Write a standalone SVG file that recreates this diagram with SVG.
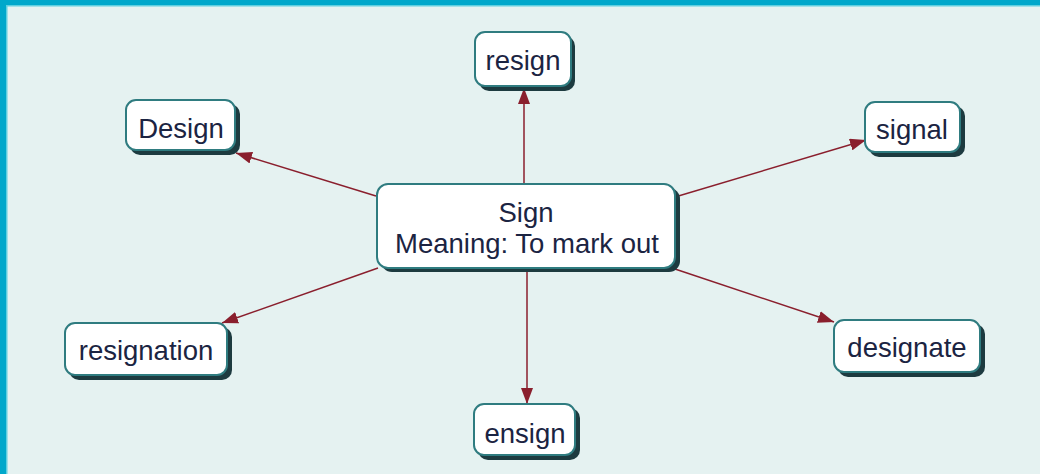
<svg xmlns="http://www.w3.org/2000/svg" width="1040" height="474" viewBox="0 0 1040 474">
<defs>
<marker id="ah" viewBox="0 0 16 12" refX="16" refY="6" markerWidth="16" markerHeight="12" markerUnits="userSpaceOnUse" orient="auto">
<path d="M0,0 L16,6 L0,12 Z" fill="#8a1f2d"/>
</marker>
</defs>
<style>
.bg{fill:#e5f2f1}
.sh{fill:#1d3b40}
.bx{fill:#ffffff;stroke:#2f7c80;stroke-width:2}
.t{font-family:"Liberation Sans",Arial,sans-serif;font-size:27.5px;fill:#1b2442;text-anchor:middle}
.c{stroke:#8a1f2d;stroke-width:1.5;fill:none;marker-end:url(#ah)}
</style>
<rect class="bg" x="0" y="0" width="1040" height="474"/>
<rect x="0" y="0" width="1040" height="5" fill="#00a8cb"/>
<rect x="0" y="5" width="1040" height="1.5" fill="#5fcfe0"/>
<rect x="0" y="0" width="6" height="474" fill="#00a8cb"/>
<rect x="6" y="5" width="1.5" height="469" fill="#5fcfe0"/>
<g id="connectors">
<line class="c" x1="524" y1="184" x2="524" y2="88"/>
<line class="c" x1="527" y1="268" x2="527" y2="404"/>
<line class="c" x1="376" y1="196" x2="236" y2="153"/>
<line class="c" x1="675" y1="197" x2="866" y2="140"/>
<line class="c" x1="378" y1="268" x2="222" y2="323"/>
<line class="c" x1="672" y1="268" x2="834" y2="322"/>
</g>
<g id="sign">
<rect class="sh" x="381" y="188" width="299" height="84" rx="11"/>
<rect class="bx" x="377" y="184" width="298" height="84" rx="11"/>
<text class="t" x="526" y="222">Sign</text>
<text class="t" x="527" y="253">Meaning: To mark out</text>
</g>
<g id="resign">
<rect class="sh" x="479" y="36" width="96" height="55" rx="10"/>
<rect class="bx" x="475" y="32" width="96" height="54" rx="10"/>
<text class="t" x="523" y="70">resign</text>
</g>
<g id="design">
<rect class="sh" x="130" y="104" width="110" height="51" rx="10"/>
<rect class="bx" x="126" y="100" width="109" height="50" rx="10"/>
<text class="t" x="181" y="138">Design</text>
</g>
<g id="signal">
<rect class="sh" x="869" y="106" width="96" height="51" rx="10"/>
<rect class="bx" x="865" y="102" width="95" height="50" rx="10"/>
<text class="t" x="912" y="139">signal</text>
</g>
<g id="resignation">
<rect class="sh" x="69" y="327" width="163" height="53" rx="10"/>
<rect class="bx" x="65" y="323" width="162" height="52" rx="10"/>
<text class="t" x="146" y="360">resignation</text>
</g>
<g id="designate">
<rect class="sh" x="838" y="324" width="147" height="53" rx="10"/>
<rect class="bx" x="834" y="320" width="146" height="52" rx="10"/>
<text class="t" x="907" y="357">designate</text>
</g>
<g id="ensign">
<rect class="sh" x="478" y="408" width="102" height="52" rx="10"/>
<rect class="bx" x="474" y="404" width="101" height="51" rx="10"/>
<text class="t" x="525" y="443">ensign</text>
</g>
</svg>
